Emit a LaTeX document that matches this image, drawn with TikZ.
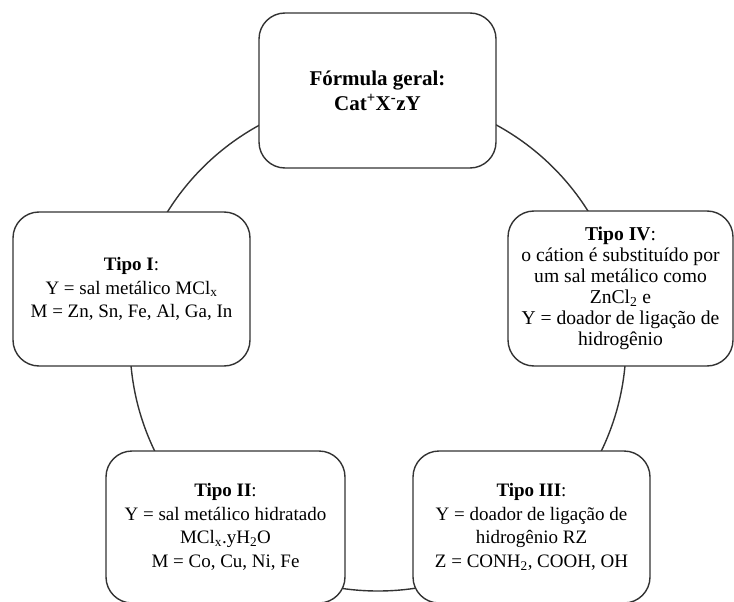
\documentclass[tikz,border=0pt]{standalone}
\usepackage{fontspec}
\setmainfont{Liberation Serif}
\begin{document}
\begin{tikzpicture}[x=1pt,y=-1pt,
  linecol/.style={draw=black!80,line width=1.4pt},
  card/.style={linecol,fill=white,rounded corners=26pt,align=center,
    inner sep=0pt,text=black,font=\fontsize{19}{23.5}\selectfont}]
\useasboundingbox (0,0) rectangle (734,602);
\clip (0,0) rectangle (734,602);
\coordinate (ctr) at (378,343);
\draw[linecol] (ctr) circle[radius=248];
\node[card,minimum width=237pt,minimum height=155pt,font=\fontsize{21}{25}\selectfont\bfseries] (top) at (377.5,90.5)
  {Fórmula geral:\\Cat\textsuperscript{+}X\textsuperscript{-}zY};
\node[card,minimum width=225pt,minimum height=155pt,font=\fontsize{19.6}{21}\selectfont] (t4) at (620.5,288.5)
  {\textbf{Tipo IV}:\\o cátion é substituído por\\um sal metálico como\\ZnCl\textsubscript{2} e\\Y = doador de ligação de\\hidrogênio};
\node[card,minimum width=237pt,minimum height=154pt] (t1) at (131.5,289)
  {\textbf{Tipo I}:\\Y = sal metálico MCl\textsubscript{x}\\M = Zn, Sn, Fe, Al, Ga, In};
\node[card,minimum width=239pt,minimum height=152pt] (t2) at (225.5,527)
  {\textbf{Tipo II}:\\Y = sal metálico hidratado\\MCl\textsubscript{x}.yH\textsubscript{2}O\\M = Co, Cu, Ni, Fe};
\node[card,minimum width=237pt,minimum height=152pt] (t3) at (531.5,527)
  {\textbf{Tipo III}:\\Y = doador de ligação de\\hidrogênio RZ\\Z = CONH\textsubscript{2}, COOH, OH};
\end{tikzpicture}
\end{document}
